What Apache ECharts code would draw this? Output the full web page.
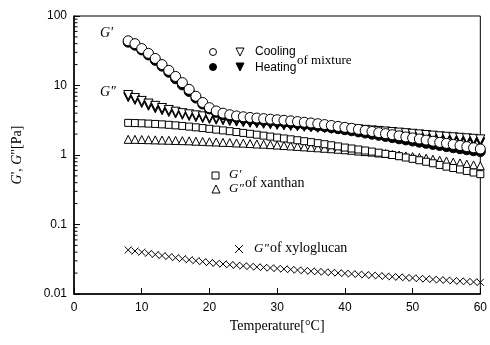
<!DOCTYPE html>
<html>
<head>
<meta charset="utf-8">
<script src="https://cdn.jsdelivr.net/npm/echarts@6/dist/echarts.min.js"></script>
<style>
html,body{margin:0;padding:0;background:#fff;}
#chart{width:490px;height:345px;}
</style>
</head>
<body>
<div id="chart"></div>
<script>
// temperature steps (°C)
var temps = [8,9,10,11,12,13,14,15,16,17,18,19,20,21,22,23,24,25,26,27,28,29,30,31,32,33,34,
  35,36,37,38,39,40,41,42,43,44,45,46,47,48,49,50,51,52,53,54,55,56,57,58,59,60];

// mixture G' (cooling / heating)
var mixGpCool = [44,40,34,29,24.5,20,16.5,13.5,11,8.8,
  7,5.7,4.8,4.3,4.0,3.8,3.65,3.55,3.47,3.4,
  3.34,3.28,3.22,3.16,3.1,3.03,2.96,2.89,2.82,2.74,
  2.66,2.58,2.5,2.42,2.34,2.26,2.18,2.1,2.03,1.96,
  1.89,1.82,1.76,1.7,1.64,1.58,1.52,1.47,1.42,1.37,
  1.32,1.27,1.22];
var mixGpHeat = [42,38,32.5,27.5,23,19,15.5,12.5,10.2,8.2,
  6.6,5.4,4.6,4.1,3.8,3.6,3.45,3.35,3.27,3.2,
  3.14,3.08,3.02,2.96,2.9,2.83,2.76,2.69,2.62,2.55,
  2.47,2.39,2.31,2.23,2.15,2.07,1.99,1.92,1.85,1.78,
  1.71,1.65,1.59,1.53,1.47,1.42,1.37,1.32,1.27,1.23,
  1.19,1.15,1.12];
// mixture G'' (cooling / heating)
var mixGppCool = [7.3,6.6,6.0,5.5,5.1,4.75,4.45,4.2,4.0,3.85,
  3.72,3.6,3.5,3.42,3.35,3.28,3.22,3.16,3.1,3.05,
  3.0,2.95,2.9,2.85,2.8,2.75,2.7,2.65,2.6,2.55,
  2.5,2.46,2.42,2.38,2.34,2.3,2.26,2.22,2.18,2.14,
  2.1,2.06,2.02,1.98,1.94,1.9,1.86,1.83,1.8,1.77,
  1.74,1.71,1.68];
var mixGppHeat = [6.8,6.2,5.6,5.1,4.7,4.4,4.15,3.95,3.78,3.63,
  3.5,3.4,3.3,3.22,3.15,3.08,3.02,2.96,2.91,2.86,
  2.81,2.76,2.71,2.66,2.62,2.58,2.54,2.5,2.46,2.42,
  2.38,2.34,2.3,2.26,2.22,2.18,2.14,2.1,2.06,2.02,
  1.98,1.94,1.9,1.86,1.82,1.78,1.74,1.7,1.66,1.62,
  1.58,1.55,1.52];
// xanthan G' and G''
var xanGp = [2.9,2.88,2.86,2.83,2.8,2.76,2.72,2.67,2.62,2.56,
  2.5,2.44,2.38,2.32,2.26,2.2,2.14,2.08,2.02,1.96,
  1.9,1.84,1.78,1.73,1.68,1.63,1.58,1.53,1.48,1.43,
  1.38,1.33,1.28,1.24,1.2,1.16,1.12,1.08,1.04,1.0,
  0.96,0.92,0.88,0.84,0.8,0.76,0.72,0.68,0.65,0.62,
  0.59,0.56,0.53];
var xanGpp = [1.68,1.68,1.67,1.66,1.65,1.64,1.63,1.62,1.61,1.6,
  1.58,1.57,1.55,1.54,1.52,1.51,1.49,1.48,1.46,1.44,
  1.43,1.41,1.39,1.37,1.35,1.33,1.31,1.29,1.27,1.25,
  1.23,1.21,1.19,1.17,1.14,1.12,1.1,1.07,1.05,1.02,
  1.0,0.97,0.95,0.92,0.9,0.87,0.84,0.82,0.79,0.77,
  0.74,0.72,0.7];
// xyloglucan G''
var xyloGpp = [0.043,0.0415,0.040,0.0385,0.037,0.0357,0.0345,0.0333,0.0322,0.0311,
  0.0301,0.0292,0.0283,0.0276,0.027,0.0264,0.0259,0.0254,0.0249,0.0245,
  0.0241,0.0237,0.0233,0.0229,0.0225,0.0221,0.0217,0.0213,0.021,0.0207,
  0.0204,0.0201,0.0198,0.0195,0.0192,0.0189,0.0186,0.0183,0.018,0.0177,
  0.0175,0.0172,0.017,0.0167,0.0165,0.0162,0.016,0.0158,0.0155,0.0153,
  0.0151,0.0149,0.0147];

var yDecades = [0.01, 0.1, 1, 10, 100];

var chart = echarts.init(document.getElementById('chart'));

// log minor ticks 2..9 of each decade
var minorTicks = [];
for (var d = 0; d < yDecades.length - 1; d++) {
  for (var k = 2; k <= 9; k++) minorTicks.push([0, +(yDecades[d] * k).toPrecision(2)]);
}

function pairs(vals) {
  return temps.map(function (t, i) { return [t, vals[i]]; });
}

var openStyle = {color: '#fff', borderColor: '#000', borderWidth: 1, opacity: 1};
var fillStyle = {color: '#000', borderColor: '#000', borderWidth: 1, opacity: 1};
var serif = '"Liberation Serif", "Times New Roman", serif';
var sans = '"Liberation Sans", Arial, sans-serif';

function txt(x, y, s, font) {
  return {type: 'text', x: x, y: y, style: {text: s, font: font, fill: '#000', verticalAlign: 'middle'}};
}

var option = {
  animation: false,
  grid: {left: 74, right: 5, top: 16, bottom: 51, show: true, borderColor: '#000', borderWidth: 1},
  xAxis: {
    type: 'value', min: 0, max: 60, interval: 10,
    axisLine: {lineStyle: {color: '#000', width: 1.5}},
    axisTick: {inside: true, length: 6, lineStyle: {color: '#000'}},
    axisLabel: {color: '#000', fontFamily: sans, fontSize: 12, margin: 8},
    splitLine: {show: false},
    name: 'Temperature[°C]', nameLocation: 'middle', nameGap: 24,
    nameTextStyle: {fontFamily: serif, fontSize: 14, color: '#000'}
  },
  yAxis: {
    type: 'log', logBase: 10, min: 0.01, max: 100,
    axisLine: {show: true, lineStyle: {color: '#000', width: 1.5}},
    axisTick: {inside: true, length: 6, lineStyle: {color: '#000'}},
    axisLabel: {color: '#000', fontFamily: sans, fontSize: 12, margin: 7},
    splitLine: {show: false},
    name: '{i|G}\', {i|G}"[Pa]', nameLocation: 'middle', nameGap: 50,
    nameTextStyle: {fontFamily: serif, fontSize: 14, color: '#000',
      rich: {i: {fontStyle: 'italic', fontFamily: serif, fontSize: 14, color: '#000'}}}
  },
  series: [
    {type: 'custom', silent: true, clip: false, data: minorTicks,
      renderItem: function (params, api) {
        var p = api.coord([api.value(0), api.value(1)]);
        return {type: 'line', shape: {x1: p[0], y1: p[1], x2: p[0] + 3.5, y2: p[1]},
          style: {stroke: '#000', lineWidth: 1}};
      }},
    {type: 'scatter', data: pairs(xyloGpp), symbol: 'path://M0,0L10,10M10,0L0,10', symbolSize: 7,
      itemStyle: {color: 'none', borderColor: '#000', borderWidth: 1, opacity: 1}},
    {type: 'scatter', data: pairs(xanGpp), symbol: 'triangle', symbolSize: 8, itemStyle: openStyle},
    {type: 'scatter', data: pairs(xanGp), symbol: 'rect', symbolSize: 7, itemStyle: openStyle},
    {type: 'scatter', data: pairs(mixGppHeat), symbol: 'triangle', symbolRotate: 180, symbolSize: 9, itemStyle: fillStyle},
    {type: 'scatter', data: pairs(mixGppCool), symbol: 'triangle', symbolRotate: 180, symbolSize: 9, itemStyle: openStyle},
    {type: 'scatter', data: pairs(mixGpHeat), symbol: 'circle', symbolSize: 10, itemStyle: fillStyle},
    {type: 'scatter', data: pairs(mixGpCool), symbol: 'circle', symbolSize: 10, itemStyle: openStyle}
  ],
  graphic: [
    txt(100, 33, "G'", 'italic 14px ' + serif),
    txt(100, 92, 'G"', 'italic 14px ' + serif),
    // mixture legend
    {type: 'circle', shape: {cx: 213, cy: 52, r: 3.5}, style: {fill: '#fff', stroke: '#000', lineWidth: 1}},
    {type: 'polygon', shape: {points: [[236, 48], [244, 48], [240, 56]]}, style: {fill: '#fff', stroke: '#000', lineWidth: 1}},
    {type: 'circle', shape: {cx: 213, cy: 67, r: 3.5}, style: {fill: '#000', stroke: '#000', lineWidth: 1}},
    {type: 'polygon', shape: {points: [[236, 63], [244, 63], [240, 71]]}, style: {fill: '#000', stroke: '#000', lineWidth: 1}},
    txt(255, 52, 'Cooling', '12px ' + sans),
    txt(255, 68, 'Heating', '12px ' + sans),
    txt(297, 61, 'of mixture', '13px ' + serif),
    // xanthan legend
    {type: 'rect', shape: {x: 212, y: 172, width: 7, height: 7}, style: {fill: '#fff', stroke: '#000', lineWidth: 1}},
    {type: 'polygon', shape: {points: [[212, 193], [220, 193], [216, 185]]}, style: {fill: '#fff', stroke: '#000', lineWidth: 1}},
    txt(229, 175, "G'", 'italic 13px ' + serif),
    txt(229, 189, 'G"', 'italic 13px ' + serif),
    txt(245, 183, 'of xanthan', '14px ' + serif),
    // xyloglucan legend
    {type: 'polyline', shape: {points: [[235, 245], [243, 253]]}, style: {stroke: '#000', lineWidth: 1}},
    {type: 'polyline', shape: {points: [[243, 245], [235, 253]]}, style: {stroke: '#000', lineWidth: 1}},
    txt(254, 249, 'G"', 'italic 13px ' + serif),
    txt(270, 248, 'of xyloglucan', '14px ' + serif)
  ]
};
chart.setOption(option);
</script>
</body>
</html>
